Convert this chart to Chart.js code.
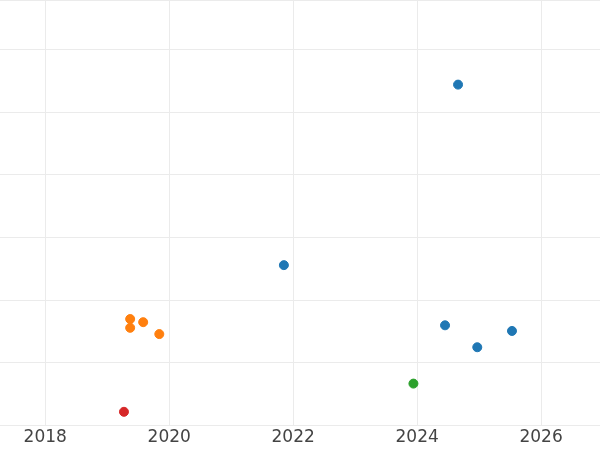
<!DOCTYPE html>
<html lang="en">
<head>
<meta charset="UTF-8">
<title>Scatter</title>
<script src="https://cdn.jsdelivr.net/npm/chart.js"></script>
<style>
  html, body { margin: 0; background: #fff; }
  #wrap { width: 600px; height: 450px; }
</style>
</head>
<body>
<div id="wrap"><canvas id="chart"></canvas></div>
<script>
// values
const blueX = [2024.66, 2021.85, 2024.45, 2024.97, 2025.53];
const blueY = [5.44, 2.56, 1.60, 1.25, 1.51];
const orangeX = [2019.37, 2019.58, 2019.37, 2019.84];
const orangeY = [1.70, 1.65, 1.56, 1.46];
const greenX = [2023.94];
const greenY = [0.67];
const redX = [2019.27];
const redY = [0.22];
const xTicks = [2018, 2020, 2022, 2024, 2026];

const pts = (xs, ys) => xs.map((x, i) => ({ x: x, y: ys[i] }));
const ds = (xs, ys, color) => ({
  data: pts(xs, ys), backgroundColor: color, borderColor: color,
  pointRadius: 4.5, pointHoverRadius: 5, clip: false
});

new Chart(document.getElementById('chart'), {
  type: 'scatter',
  data: {
    datasets: [
      ds(blueX, blueY, '#1f77b4'),
      ds(orangeX, orangeY, '#ff7f0e'),
      ds(greenX, greenY, '#2ca02c'),
      ds(redX, redY, '#d62728')
    ]
  },
  options: {
    responsive: true,
    maintainAspectRatio: false,
    animation: false,
    layout: { padding: 0, autoPadding: false },
    plugins: { legend: { display: false }, tooltip: { enabled: false } },
    scales: {
      x: {
        type: 'linear', min: 2017.27, max: 2026.95,
        afterBuildTicks: (axis) => { axis.ticks = xTicks.map(v => ({ value: v })); },
        grid: { color: '#ebebeb', drawTicks: false },
        border: { display: false },
        ticks: { color: '#444', font: { size: 17, family: 'DejaVu Sans' }, padding: 2,
                 callback: (v) => String(v) }
      },
      y: {
        min: 0, max: 6.79,
        ticks: { display: false, stepSize: 1 },
        grid: { color: '#ebebeb', drawTicks: false },
        border: { display: false }
      }
    }
  }
});
</script>
</body>
</html>
